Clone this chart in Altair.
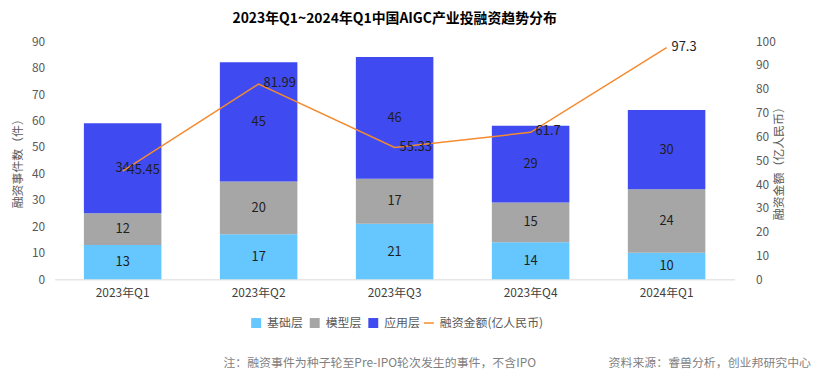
import altair as alt
import pandas as pd

quarters = ["2023年Q1", "2023年Q2", "2023年Q3", "2023年Q4", "2024年Q1"]
base_layer = [13, 17, 21, 14, 10]
model_layer = [12, 20, 17, 15, 24]
app_layer = [34, 45, 46, 29, 30]
amount = [45.45, 81.99, 55.33, 61.7, 97.3]
layers = ["基础层", "模型层", "应用层"]
line_name = ["融资金额(亿人民币)"]
colors = ["#66C6FE", "#A6A6A6", "#3F4BF0"]
line_color = ["#F58A2E"]
title_text = "2023年Q1~2024年Q1中国AIGC产业投融资趋势分布"
notes = ["注：融资事件为种子轮至Pre-IPO轮次发生的事件，不含IPO", "资料来源：睿兽分析，创业邦研究中心"]

FONT = "Noto Sans CJK SC"

rows = []
for i, q in enumerate(quarters):
    for j, vals in enumerate([base_layer, model_layer, app_layer]):
        rows.append({"季度": q, "层级": layers[j], "order": j, "件数": vals[i]})
bars_df = pd.DataFrame(rows)
line_df = pd.DataFrame({"季度": quarters, "金额": amount, "系列": line_name * len(quarters)})

x_axis = alt.Axis(title=None, labelAngle=0, ticks=False, domainColor="#D9D9D9",
                  labelColor="#404040", labelFontSize=12, labelPadding=8, labelFont=FONT)
x_scale = alt.Scale(paddingInner=0.43, paddingOuter=0.215)

left_scale = alt.Scale(domain=[0, 90])
right_scale = alt.Scale(domain=[0, 100])

left_axis = alt.Axis(title="融资事件数（件）", values=list(range(0, 91, 10)),
                     ticks=False, domain=False, grid=False, labelPadding=10,
                     titlePadding=7, labelColor="#595959", titleColor="#595959",
                     labelFontSize=12, titleFontSize=12, titleFontWeight="normal",
                     labelFont=FONT, titleFont=FONT)
right_axis = alt.Axis(title="融资金额（亿人民币）", orient="right", values=list(range(0, 101, 10)),
                      ticks=False, domain=False, grid=False, labelPadding=21,
                      titlePadding=10, titleAngle=270, labelColor="#595959", titleColor="#595959",
                      labelFontSize=12, titleFontSize=12, titleFontWeight="normal",
                      labelFont=FONT, titleFont=FONT)

bars = alt.Chart(bars_df).mark_bar().encode(
    x=alt.X("季度:N", sort=quarters, scale=x_scale, axis=x_axis),
    y=alt.Y("件数:Q", stack="zero", scale=left_scale, axis=left_axis),
    color=alt.Color("层级:N", scale=alt.Scale(domain=layers, range=colors),
                    legend=alt.Legend(title=None, orient="none", legendX=197, legendY=278,
                                      direction="horizontal", symbolType="square",
                                      symbolSize=100, labelFontSize=12, labelColor="#595959",
                                      labelFont=FONT, columnPadding=5, labelOffset=5)),
    order=alt.Order("order:Q"),
)

bar_text = alt.Chart(bars_df).transform_stack(
    stack="件数", groupby=["季度"], as_=["y0", "y1"], sort=[alt.SortField("order")]
).transform_calculate(mid="(datum.y0 + datum.y1) / 2").mark_text(
    fontSize=13, color="#1F1F1F", font=FONT, baseline="middle"
).encode(
    x=alt.X("季度:N", sort=quarters, scale=x_scale, axis=x_axis),
    y=alt.Y("mid:Q", scale=left_scale, axis=left_axis),
    text=alt.Text("件数:Q"),
)

left = alt.layer(bars, bar_text)

line = alt.Chart(line_df).mark_line(strokeWidth=1.5).encode(
    x=alt.X("季度:N", sort=quarters, scale=x_scale, axis=x_axis),
    y=alt.Y("金额:Q", scale=right_scale, axis=right_axis),
    color=alt.Color("系列:N", scale=alt.Scale(domain=line_name, range=line_color),
                    legend=alt.Legend(title=None, orient="none", legendX=371, legendY=278,
                                      direction="horizontal", symbolType="stroke",
                                      symbolSize=100, symbolStrokeWidth=1.5, labelFontSize=12,
                                      labelColor="#595959", labelFont=FONT, labelOffset=5)),
)

line_text = alt.Chart(line_df).mark_text(
    align="left", baseline="middle", dx=5, dy=-1, fontSize=13, color="#1F1F1F", font=FONT
).encode(
    x=alt.X("季度:N", sort=quarters, scale=x_scale, axis=x_axis),
    y=alt.Y("金额:Q", scale=right_scale, axis=right_axis),
    text=alt.Text("金额:Q"),
)

right = alt.layer(line, line_text)

notes_df = pd.DataFrame({"t": notes})
note_left = alt.Chart(notes_df.iloc[[0]]).mark_text(
    align="left", baseline="middle", fontSize=12, color="#7F7F7F", font=FONT
).encode(x=alt.value(170), y=alt.value(324), text="t:N")
note_right = alt.Chart(notes_df.iloc[[1]]).mark_text(
    align="right", baseline="middle", fontSize=12, color="#7F7F7F", font=FONT
).encode(x=alt.value(762), y=alt.value(324), text="t:N")

chart = alt.layer(left, right, note_left, note_right).resolve_scale(
    y="independent", color="independent"
).properties(
    width=685, height=240,
    title=alt.TitleParams(title_text, fontSize=14, fontWeight="bold", font=FONT,
                          anchor="middle", color="#000000", offset=9),
    autosize=alt.AutoSizeParams(type="none"),
    padding={"left": 47, "top": 32, "right": 80, "bottom": 92},
).configure_view(stroke=None).configure_axis(grid=False)

chart.save("out.html", embed_options={"renderer": "svg", "actions": False})
